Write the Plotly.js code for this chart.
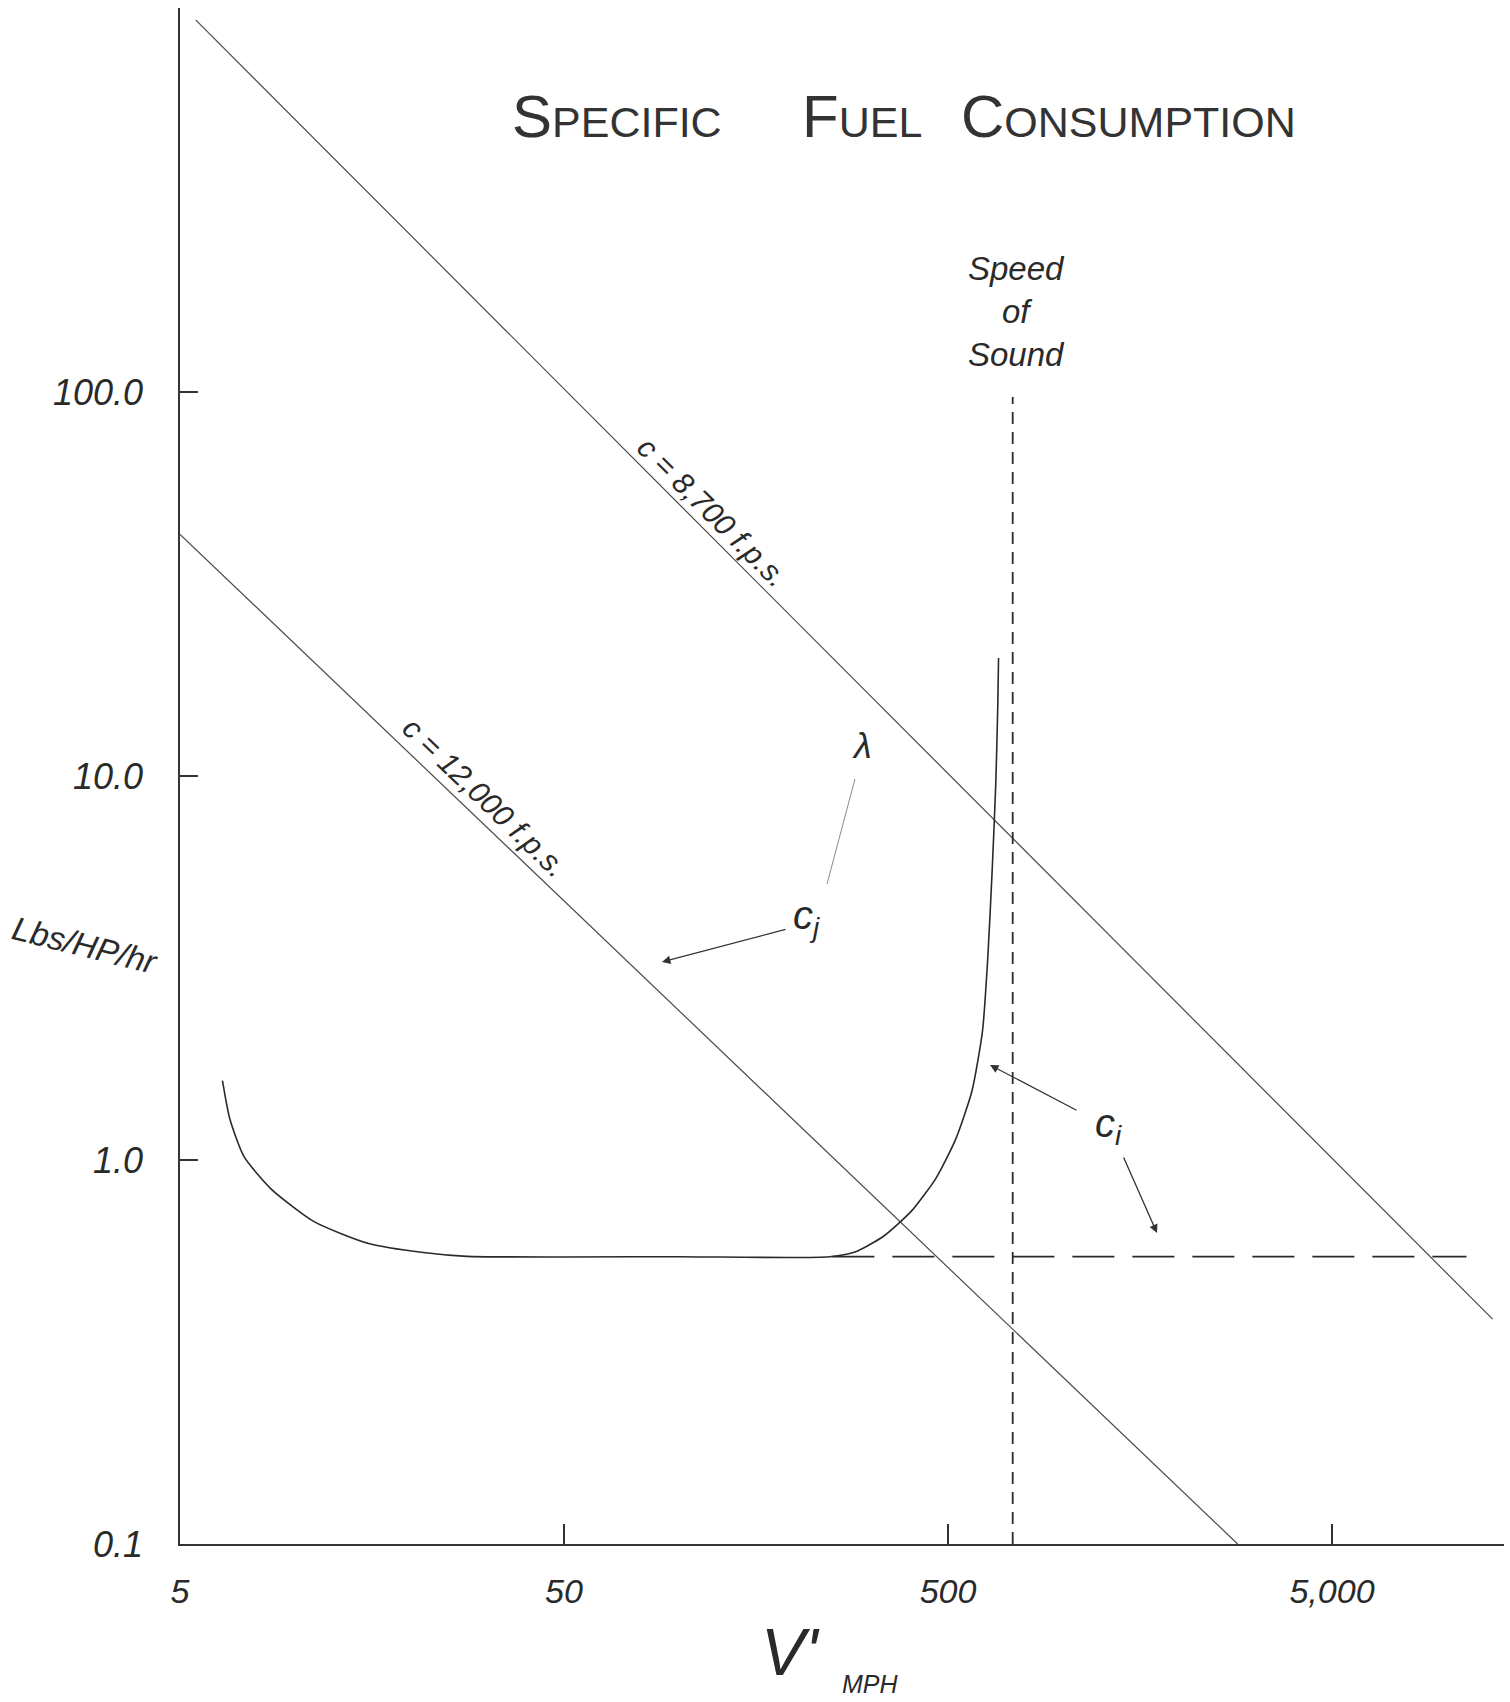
<!DOCTYPE html>
<html>
<head>
<meta charset="utf-8">
<script src="https://cdn.plot.ly/plotly-3.0.1.min.js"></script>
<style>html,body{margin:0;padding:0;background:#fff;}#chart{width:1510px;height:1702px;}</style>
</head>
<body>
<div id="chart"></div>
<script>
// ---- data ----
const xTickVals = [5, 50, 500, 5000];
const xTickText = ['5', '50', '500', '5,000'];
const yTickVals = [0.1, 1, 10, 100];
const yTickText = ['0.1', '1.0', '10.0', '100.0'];

// c_i curve: speed (mph) vs specific fuel consumption (lbs/HP/hr)
const ciSpeed = [6.45, 6.74, 7.34, 8.64, 11.2, 15.5, 21.5, 27.9, 100, 246, 290, 341, 402, 465, 523, 577, 615, 635, 652, 666, 674, 677];
const ciSfc   = [1.61, 1.28, 1.02, 0.84, 0.69, 0.606, 0.574, 0.561, 0.56, 0.56, 0.579, 0.635, 0.737, 0.896, 1.13, 1.51, 2.17, 3.39, 5.75, 9.6, 15.3, 20.3];

// c_i constant (dashed continuation)
const ciDashSpeed = [250, 11200];
const ciDashSfc   = [0.56, 0.56];

// c_j lines for exhaust velocity c
const c8700Speed  = [5.5, 13100];
const c8700Sfc    = [930, 0.385];
const c12000Speed = [5, 2840];
const c12000Sfc   = [42.6, 0.1];

// speed of sound marker
const soundSpeedX = [737, 737];
const soundSpeedY = [0.1, 97];

// ---- layout helpers (pixel -> paper) ----
const L = 180, T = 8, R = 1504, B = 1544;
const W = R - L, H = B - T;
const px = v => (v - L) / W;
const py = v => (B - v) / H;
const decade = 384;
const xr = [Math.log10(5), Math.log10(5) + W / decade];
const yr = [-1, -1 + H / decade];

const ink = '#2a2a2a';
const hand = 'Liberation Sans, DejaVu Sans, sans-serif';

const traces = [
  {x: c8700Speed, y: c8700Sfc, mode: 'lines', line: {color: '#4a4a4a', width: 1.2}},
  {x: c12000Speed, y: c12000Sfc, mode: 'lines', line: {color: '#4a4a4a', width: 1.2}},
  {x: ciSpeed, y: ciSfc, mode: 'lines', line: {color: ink, width: 1.6, shape: 'spline', smoothing: 0.6}},
  {x: ciDashSpeed, y: ciDashSfc, mode: 'lines', line: {color: ink, width: 1.8, dash: '42px,18px'}},
  {x: soundSpeedX, y: soundSpeedY, mode: 'lines', line: {color: ink, width: 1.8, dash: '12px,8px'}}
];

function txt(text, x, y, size, opts) {
  return Object.assign({
    text: text, xref: 'paper', yref: 'paper', x: px(x), y: py(y),
    xanchor: 'center', yanchor: 'middle', showarrow: false,
    font: {family: hand, size: size, color: ink, style: 'italic'}
  }, opts || {});
}
function arrow(x0, y0, x1, y1) {
  return {
    text: '', xref: 'paper', yref: 'paper', x: px(x1), y: py(y1),
    ax: x0 - x1, ay: y0 - y1, showarrow: true,
    arrowhead: 2, arrowsize: 1.3, arrowwidth: 1.3, arrowcolor: '#333'
  };
}

const titleFont = {family: hand, size: 43, color: '#333'};
const annotations = [
  txt('<span style="font-size:60px">S</span>PECIFIC', 617, 117, 43, {font: titleFont}),
  txt('<span style="font-size:60px">F</span>UEL', 862, 117, 43, {font: titleFont}),
  txt('<span style="font-size:60px">C</span>ONSUMPTION', 1128, 117, 43, {font: titleFont}),
  txt('Speed<br>of<br>Sound', 1016, 312, 33),
  txt('c = 8,700 f.p.s.', 713, 512, 30, {textangle: 45}),
  txt('c = 12,000 f.p.s.', 485, 797, 30, {textangle: 44}),
  txt('λ', 862, 745, 36),
  txt('c<sub>j</sub>', 806, 918, 40),
  txt('c<sub>i</sub>', 1108, 1126, 40),
  arrow(787, 929, 662, 962),
  arrow(1078, 1111, 990, 1065),
  arrow(1123, 1156, 1157, 1233),
  txt('Lbs/HP/hr', 86, 945, 33, {textangle: 14}),
  txt("V'", 790, 1652, 66),
  txt('MPH', 870, 1684, 25)
];

const shapes = [
  {type: 'line', xref: 'paper', yref: 'paper', x0: px(855), y0: py(779), x1: px(827), y1: py(884),
   line: {color: '#8a8a8a', width: 1}}
];

const layout = {
  width: 1510, height: 1702,
  margin: {l: L, r: 1510 - R, t: T, b: 1702 - B},
  paper_bgcolor: '#fff', plot_bgcolor: '#fff',
  showlegend: false,
  hovermode: false,
  xaxis: {
    type: 'log', range: xr, showgrid: false, zeroline: false,
    showline: true, linecolor: '#333', linewidth: 1.8,
    tickmode: 'array', tickvals: xTickVals, ticktext: xTickText,
    ticks: 'inside', ticklen: 20, tickwidth: 1.8, tickcolor: '#333',
    ticklabelstandoff: 16,
    tickfont: {family: hand, size: 34, color: ink, style: 'italic'}
  },
  yaxis: {
    type: 'log', range: yr, showgrid: false, zeroline: false,
    showline: true, linecolor: '#333', linewidth: 1.8,
    tickmode: 'array', tickvals: yTickVals, ticktext: yTickText,
    ticks: 'inside', ticklen: 18, tickwidth: 1.8, tickcolor: '#333',
    ticklabelstandoff: 28,
    tickfont: {family: hand, size: 36, color: ink, style: 'italic'}
  },
  annotations: annotations,
  shapes: shapes
};

Plotly.newPlot('chart', traces, layout, {displayModeBar: false, staticPlot: true});
</script>
</body>
</html>
